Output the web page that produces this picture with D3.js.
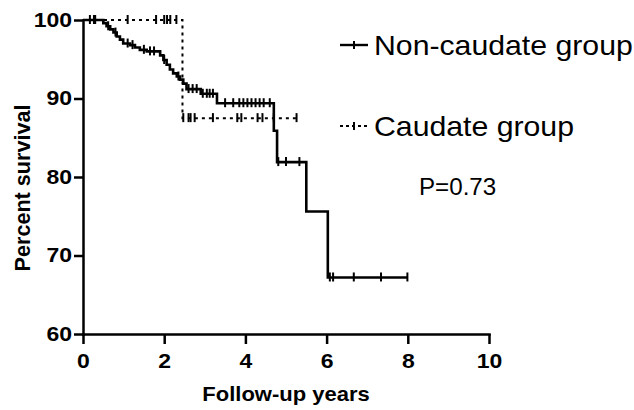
<!DOCTYPE html>
<html>
<head>
<meta charset="utf-8">
<script src="https://cdn.jsdelivr.net/npm/d3@7/dist/d3.min.js"></script>
<style>
body { margin: 0; background: #fff; }
svg { display: block; }
text { font-family: "Liberation Sans", Arial, sans-serif; fill: #000; }
.axis path, .axis line { stroke: #000; stroke-width: 2.5; }
</style>
</head>
<body>
<svg id="chart" width="634" height="410"></svg>
<script>
// Kaplan-Meier steps: time (years) of each drop, survival (%) after it
var nonCaudateTimes = [0, 0.5, 0.58, 0.67, 0.75, 0.83, 0.91, 0.99, 1.16, 1.28, 1.40, 1.57, 1.90, 1.98, 2.06, 2.14, 2.22, 2.31, 2.39, 2.47, 2.55, 2.9, 3.3, 4.7, 4.78, 5.5, 6.03];
var nonCaudateSurv  = [100, 99.6, 99.2, 98.8, 98.4, 97.9, 97.5, 97.0, 96.8, 96.5, 96.2, 96.0, 95.5, 94.9, 94.3, 93.7, 93.2, 92.8, 92.4, 91.9, 91.2, 90.6, 89.4, 85.9, 81.9, 75.6, 67.2];
var nonCaudateEnd = 8;
var nonCaudateCensor = [0.17, 0.27, 0.62, 0.8, 1.1, 1.22, 1.5, 1.65, 1.75, 2.0, 2.35, 2.6, 2.7, 2.8, 2.95, 3.05, 3.12, 3.2, 3.5, 3.7, 3.85, 3.95, 4.05, 4.15, 4.25, 4.35, 4.45, 4.6, 4.81, 5.0, 5.33, 6.08, 6.16, 6.67, 7.34, 7.99];

var caudateTimes = [0, 2.45];
var caudateSurv  = [100, 87.5];
var caudateEnd = 5.28;
var caudateCensor = [0.3, 1.1, 1.8, 2.0, 2.07, 2.15, 2.3, 2.47, 2.6, 2.65, 2.75, 3.2, 3.8, 3.9, 4.3, 4.42, 4.7, 5.26];

var xTicks = [0, 2, 4, 6, 8, 10];
var yTicks = [60, 70, 80, 90, 100];
var legendNames = ["Non-caudate group", "Caudate group"];
var pText = "P=0.73";

var svg = d3.select("#chart");
var x = d3.scaleLinear().domain([0, 10]).range([83, 489]);
var y = d3.scaleLinear().domain([60, 100]).range([334, 20]);

function makePoints(times, surv, end) {
	var pts = times.map(function(t, i) { return [t, surv[i]]; });
	pts.push([end, surv[surv.length - 1]]);
	return pts;
}

function survAt(times, surv, t) {
	var s = surv[0];
	for (var i = 0; i < times.length; i++)
		if (times[i] <= t) s = surv[i];
	return s;
}

var line = d3.line()
	.x(function(d) { return x(d[0]); })
	.y(function(d) { return y(d[1]); })
	.curve(d3.curveStepAfter);

// axes
svg.append("g")
	.attr("class", "axis")
	.attr("transform", "translate(0," + y(60) + ")")
	.call(d3.axisBottom(x).tickValues(xTicks).tickSize(10).tickPadding(10).tickSizeOuter(0));

svg.append("g")
	.attr("class", "axis")
	.attr("transform", "translate(" + x(0) + ",0)")
	.call(d3.axisLeft(y).tickValues(yTicks).tickSize(9).tickPadding(2).tickSizeOuter(0));

svg.selectAll(".axis .domain").attr("stroke-linecap", "square");
// the picture's tick labels are bold and a little wide
svg.selectAll(".axis text")
	.style("font-size", "20px")
	.style("font-weight", "bold")
	.each(function() {
		var t = d3.select(this);
		var tx = +t.attr("x") || 0;
		t.attr("x", 0).attr("transform", "translate(" + tx + ",0) scale(1.15,1)");
	});

// curves
svg.append("path")
	.attr("d", line(makePoints(caudateTimes, caudateSurv, caudateEnd)))
	.attr("fill", "none")
	.attr("stroke", "#000")
	.attr("stroke-width", 2)
	.attr("stroke-dasharray", "3,4");

svg.append("path")
	.attr("d", line(makePoints(nonCaudateTimes, nonCaudateSurv, nonCaudateEnd)))
	.attr("fill", "none")
	.attr("stroke", "#000")
	.attr("stroke-width", 2.6);

// censor marks
svg.selectAll("line.cens1")
	.data(caudateCensor)
	.enter()
	.append("line")
	.attr("class", "cens1")
	.attr("x1", function(d) { return x(d); })
	.attr("x2", function(d) { return x(d); })
	.attr("y1", function(d) { return y(survAt(caudateTimes, caudateSurv, d)) - 5; })
	.attr("y2", function(d) { return y(survAt(caudateTimes, caudateSurv, d)) + 4; })
	.attr("stroke", "#000")
	.attr("stroke-width", 2);

svg.selectAll("line.cens2")
	.data(nonCaudateCensor)
	.enter()
	.append("line")
	.attr("class", "cens2")
	.attr("x1", function(d) { return x(d); })
	.attr("x2", function(d) { return x(d); })
	.attr("y1", function(d) { return y(survAt(nonCaudateTimes, nonCaudateSurv, d)) - 5; })
	.attr("y2", function(d) { return y(survAt(nonCaudateTimes, nonCaudateSurv, d)) + 4; })
	.attr("stroke", "#000")
	.attr("stroke-width", 2);

// axis titles
svg.append("text")
	.attr("transform", "translate(" + ((x(0) + x(10)) / 2) + ",401) scale(1.1,1)")
	.attr("text-anchor", "middle")
	.style("font-weight", "bold")
	.style("font-size", "20px")
	.text("Follow-up years");

svg.append("text")
	.attr("transform", "translate(30,188) rotate(-90) scale(1.08,1.12)")
	.attr("text-anchor", "middle")
	.style("font-weight", "bold")
	.style("font-size", "20px")
	.text("Percent survival");

// legend
var legendY = [45, 126];
var legend = svg.selectAll("g.legend")
	.data(legendNames)
	.enter()
	.append("g")
	.attr("class", "legend")
	.attr("transform", function(d, i) { return "translate(340," + legendY[i] + ")"; });

legend.append("line")
	.attr("x1", 0).attr("x2", 28)
	.attr("stroke", "#000")
	.attr("stroke-width", function(d, i) { return i == 0 ? 2.4 : 1.8; })
	.attr("stroke-dasharray", function(d, i) { return i == 0 ? null : "3,3"; });

legend.append("line")
	.attr("x1", 14).attr("x2", 14)
	.attr("y1", -4).attr("y2", 4)
	.attr("stroke", "#000")
	.attr("stroke-width", 2);

legend.append("text")
	.attr("transform", "translate(34,10) scale(1.08,1)")
	.style("font-size", "28px")
	.text(function(d) { return d; });

svg.append("text")
	.attr("transform", "translate(419,195) scale(1.05,1)")
	.style("font-size", "23px")
	.text(pText);
</script>
</body>
</html>
